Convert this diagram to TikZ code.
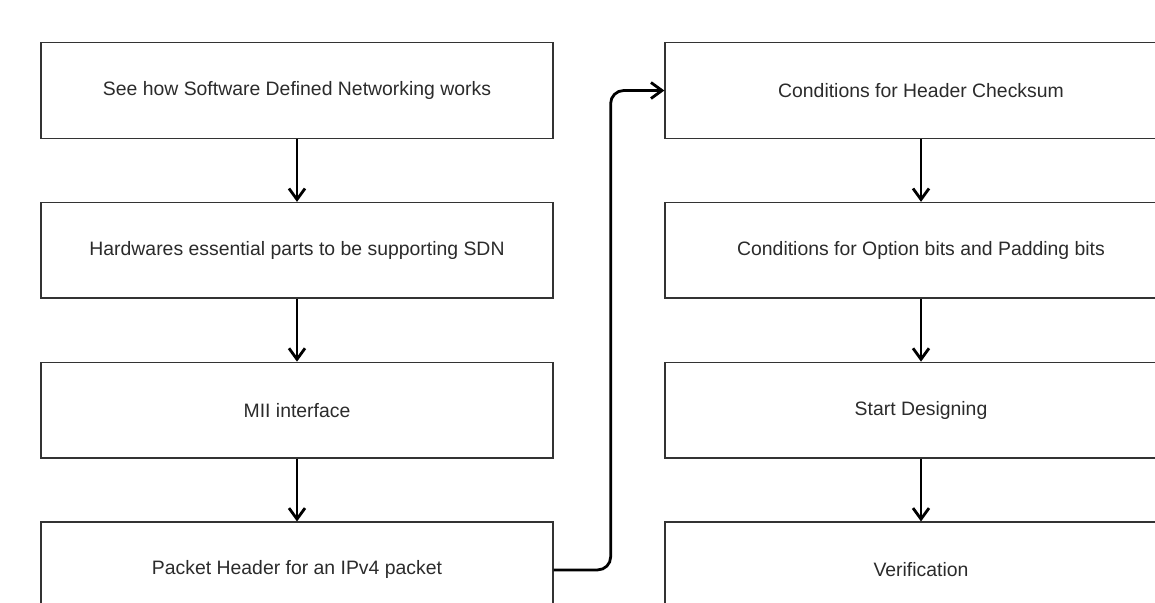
\documentclass[tikz,border=0pt]{standalone}
\usepackage{fontspec}
\setmainfont{Liberation Sans}
\usetikzlibrary{positioning, arrows.meta}
\definecolor{boxEdge}{HTML}{333333}
\definecolor{boxText}{HTML}{2B2B2B}

\begin{document}
\begin{tikzpicture}[x=0.5pt, y=-0.5pt,
    stepbox/.style={draw=boxEdge, line width=0.65pt, fill=white, text=boxText,
      minimum width=256pt, minimum height=47.8pt, inner sep=0pt,
      font=\fontsize{9.7}{11.6}\selectfont},
    flow/.style={-{Straight Barb[length=5.5pt, width=8pt]}, line width=1.4pt}]
  \useasboundingbox (0,0) rectangle (1155,602);
  \clip (0,0) rectangle (1155,602);
  \fill[white] (0,0) rectangle (1155,602);
  \foreach \x/\y/\name/\txt in
    {297/90.5/l1/See how Software Defined Networking works,
     297/250.3/l2/Hardwares essential parts to be supporting SDN,
     297/410.1/l3/MII interface,
     297/569.9/l4/Packet Header for an IPv4 packet,
     921/90.5/r1/Conditions for Header Checksum,
     921/250.3/r2/Conditions for Option bits and Padding bits,
     921/410.1/r3/Start Designing,
     921/569.9/r4/Verification}{
    \node[stepbox] (\name) at (\x,\y) {\txt};
  }
  \foreach \a/\b in {l1/l2, l2/l3, l3/l4, r1/r2, r2/r3, r3/r4}{
    \draw[flow] (\a) -- (\b);
  }
  \draw[flow, rounded corners=6.5pt] (l4.east) -- ++(57,0) |- (r1.west);
\end{tikzpicture}
\end{document}
